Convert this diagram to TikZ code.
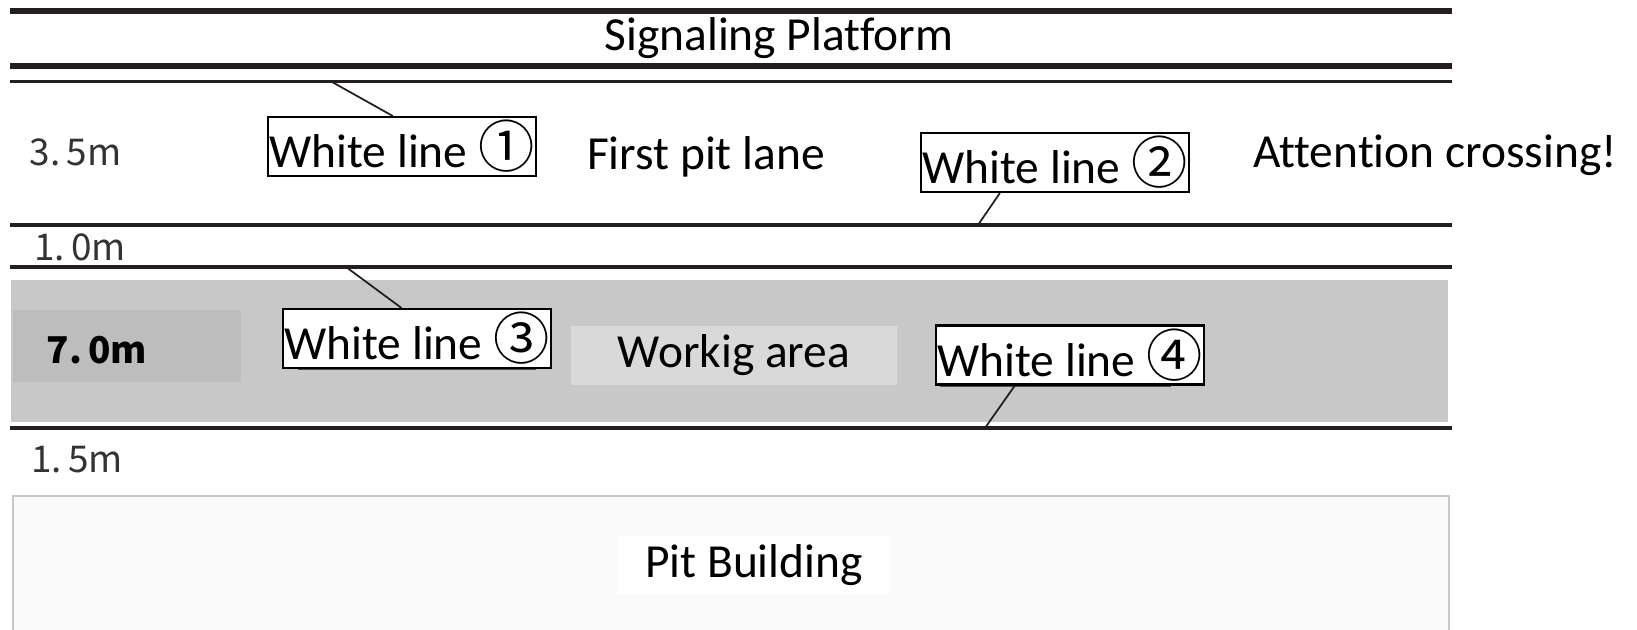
\documentclass[tikz,border=0pt]{standalone}
\usepackage{fontspec}
\setmainfont{Carlito}[Ligatures=NoCommon]
\newfontfamily\jpfont{Noto Sans CJK JP}
\usetikzlibrary{positioning}
\definecolor{inkline}{HTML}{231F20}
\definecolor{workgrey}{HTML}{C8C8C8}
\definecolor{dimgrey}{HTML}{BDBDBD}
\definecolor{areagrey}{HTML}{D9D9D9}
\definecolor{buildgrey}{HTML}{FAFAFA}
\definecolor{dimtext}{HTML}{333333}
\newcommand{\laneline}[2]{\draw[inkline, line width=#1] (0.10,#2) -- (14.52,#2);}
\newcommand{\circnum}[1]{{\jpfont\fontsize{16}{16}\selectfont #1}}
\tikzset{
	biglabel/.style={font=\fontsize{13.5}{16}\selectfont, inner sep=0pt},
	whitebox/.style={draw=black, line width=0.6pt, fill=white, font=\fontsize{13.5}{16}\selectfont,
		inner xsep=0.5pt, inner ysep=0pt, minimum height=0.59cm},
	dimlabel/.style={font=\jpfont\fontsize{10.5}{12}\selectfont, text=dimtext, inner sep=0pt},
	leader/.style={draw=inkline, line width=0.5pt}
}
\begin{document}
\begin{tikzpicture}
		\useasboundingbox (0,0) rectangle (16.37,6.30);

		\fill[workgrey] (0.11,2.08) rectangle (14.48,3.50);
		\fill[dimgrey] (0.13,2.48) rectangle (2.41,3.20);
		\draw[buildgrey!80!black, fill=buildgrey, line width=0.5pt] (0.13,-0.10) rectangle (14.49,1.34);

		\laneline{1.7pt}{6.19}
		\laneline{1.7pt}{5.64}
		\laneline{0.85pt}{5.48}
		\laneline{0.9pt}{4.05}
		\laneline{0.9pt}{3.63}
		\laneline{0.9pt}{2.02}

		\node[biglabel] (platform) at (7.79,5.915) {Signaling Platform};
		\node[biglabel] (pitlane) at (7.06,4.73) {First pit lane};
		\node[biglabel] (crossing) at (14.35,4.75) {Attention crossing!};
		\node[biglabel, fill=areagrey, minimum width=3.26cm, minimum height=0.59cm] (workarea) at (7.34,2.745) {Workig area};
		\node[biglabel, fill=white, minimum width=2.72cm, minimum height=0.58cm] (building) at (7.54,0.65) {Pit Building};

		\node[dimlabel] (dimA) at (0.755,4.78) {3.\,5m};
		\node[dimlabel] (dimB) at (0.80,3.83) {1.\,0m};
		\node[dimlabel, text=black, font=\jpfont\bfseries\fontsize{10.5}{12}\selectfont] (dimC) at (0.97,2.80) {7.\,0m};
		\node[dimlabel] (dimD) at (0.77,1.70) {1.\,5m};

		\draw[black!70, line width=0.8pt] (2.98,2.61) -- (5.36,2.61);
		\draw[black!70, line width=0.8pt] (9.40,2.44) -- (11.71,2.44);

		\node[whitebox] (wl1) at (4.02,4.835) {White line \circnum{①}};
		\node[whitebox] (wl2) at (10.55,4.675) {White line \circnum{②}};
		\node[whitebox] (wl3) at (4.17,2.915) {White line \circnum{③}};
		\node[whitebox] (wl4) at (10.70,2.75) {White line \circnum{④}};

		\coordinate (tip1) at (3.32,5.48);
		\coordinate (tip2) at (9.78,4.05);
		\coordinate (tip3) at (3.46,3.63);
		\coordinate (tip4) at (9.85,2.02);

		\draw[leader] (tip1) -- (wl1.107);
		\draw[leader] (wl2.209) -- (tip2);
		\draw[leader] (tip3) -- (wl3.117);
		\draw[leader] (wl4.209) -- (tip4);

\end{tikzpicture}
\end{document}
